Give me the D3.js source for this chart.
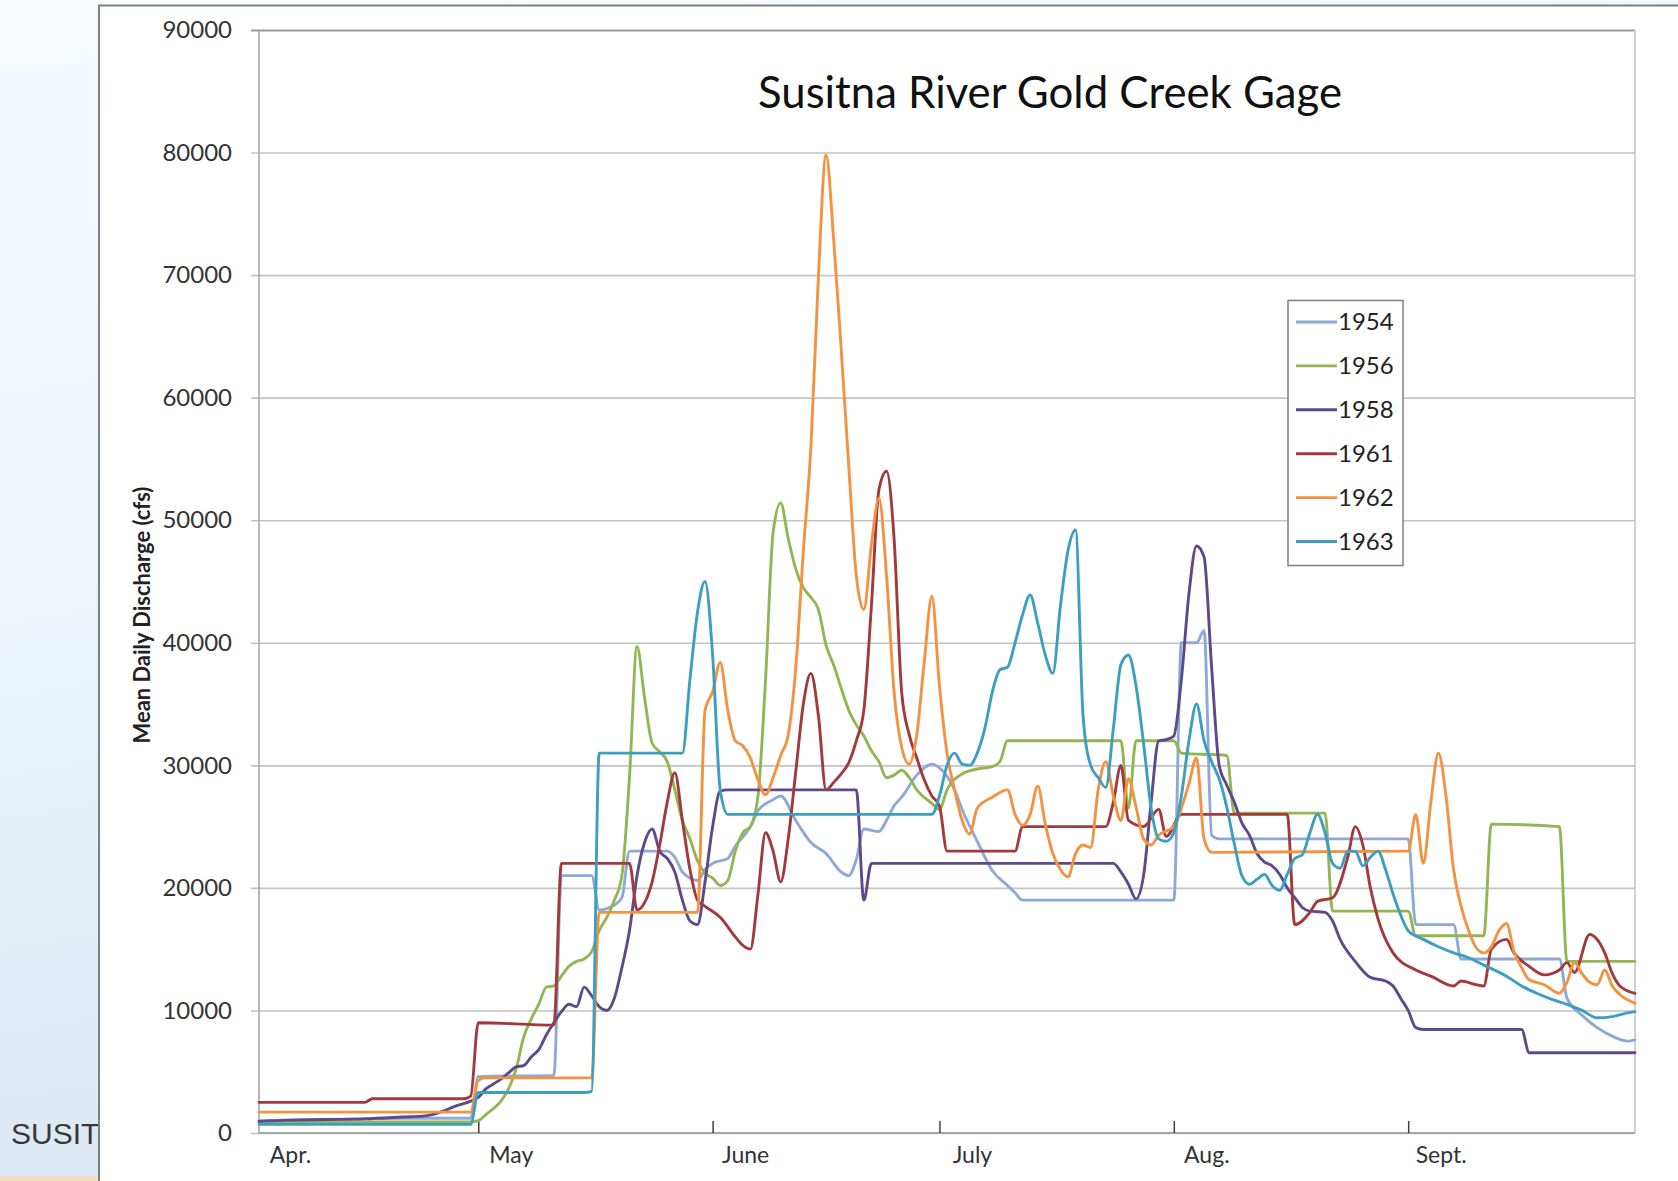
<!DOCTYPE html>
<html>
<head>
<meta charset="utf-8">
<script src="https://cdn.jsdelivr.net/npm/d3@7"></script>
<style>
  html, body { margin: 0; padding: 0; background: #fff; overflow: hidden; }
  svg { display: block; }
</style>
</head>
<body>
<svg id="chart" width="1678" height="1181"></svg>
<script>
// Mean daily discharge (cfs), Susitna River at Gold Creek, April through September.
// Each point is [day, cfs] where day counts days since April 1 (May 1 = 30, Sept 30 = 182).

const years = ["1954", "1956", "1958", "1961", "1962", "1963"];

const flow1954 = [[1,1000],[10,1100],[20,1200],[29,1200],[30,4600],[40,4700],[41,21000],[45,21000],[46,18200],[48,18600],[49,19200],[50,23000],[55,23000],[56,22500],[57,21300],[58,20800],[59,20600],[60,21500],[61,22000],[63,22400],[64,23400],[66,25000],[67,26300],[69,27200],[70,27500],[72,25500],[74,23700],[76,22800],[78,21300],[79,21000],[80,22300],[81,24800],[83,24600],[84,25500],[85,26700],[86,27400],[88,29200],[90,30100],[91,29800],[93,28000],[94,26400],[96,23800],[98,21400],[100,20200],[101,19600],[102,19000],[122,19000],[123,40000],[125,40000],[126,41000],[127,24300],[128,24000],[153,24000],[154,17000],[159,17000],[160,14200],[173,14200],[174,11000],[176,9600],[178,8600],[180,7900],[182,7500],[183,7600]];

const flow1956 = [[1,900],[29,900],[30,1000],[31,1500],[32,2000],[33,2600],[34,3600],[35,5200],[36,7800],[37,9300],[38,10500],[39,11900],[40,12000],[41,12800],[42,13600],[43,14000],[44,14200],[45,14800],[46,16500],[47,17600],[48,19000],[49,21000],[50,29000],[51,39700],[52,35500],[53,31800],[54,31100],[55,30300],[56,28000],[57,25500],[58,24000],[59,22200],[60,21200],[61,20800],[62,20200],[63,20600],[64,23000],[65,24500],[66,25000],[67,27500],[68,37000],[69,49000],[70,51400],[71,48500],[72,46000],[73,44500],[74,43700],[75,42700],[76,39800],[77,38200],[78,36300],[79,34500],[80,33300],[81,32400],[82,31200],[83,30300],[84,29000],[85,29200],[86,29600],[87,29000],[88,28000],[90,26900],[91,26400],[92,28000],[94,29300],[96,29700],[98,29900],[99,30300],[100,32000],[115,32000],[116,26500],[117,32000],[122,32000],[123,31000],[129,30800],[130,26100],[142,26100],[143,18100],[153,18100],[154,16100],[163,16100],[164,25200],[173,25000],[174,14000],[183,14000]];

const flow1958 = [[1,950],[5,1050],[10,1100],[15,1150],[20,1300],[23,1400],[25,1700],[27,2200],[29,2600],[30,2900],[31,3600],[32,4000],[33,4400],[34,4900],[35,5400],[36,5500],[37,6200],[38,6800],[39,8000],[40,9000],[41,9900],[42,10500],[43,10300],[44,11900],[45,11200],[46,10300],[47,10000],[48,11000],[49,13500],[50,16500],[51,21000],[52,23700],[53,24800],[54,23000],[55,22400],[56,21300],[57,19000],[58,17300],[59,17000],[60,20500],[61,25000],[62,27900],[63,28000],[80,28000],[81,19000],[82,22000],[114,22000],[115,21300],[116,20300],[117,19100],[118,21000],[119,27000],[120,32000],[121,32100],[122,32400],[123,37000],[124,44000],[125,47900],[126,47000],[127,38000],[128,30000],[129,28400],[130,27000],[131,25300],[132,24300],[133,22800],[134,22100],[135,21800],[136,21100],[137,20000],[138,19200],[139,18400],[140,18100],[142,18000],[143,17300],[144,15800],[146,14000],[148,12700],[150,12400],[151,12000],[152,11000],[153,10000],[154,8600],[155,8450],[168,8450],[169,6550],[183,6550]];

const flow1961 = [[1,2500],[15,2500],[16,2800],[28,2800],[29,3000],[30,9000],[40,8800],[41,22000],[50,22000],[51,18200],[52,18800],[53,20500],[54,23500],[55,27000],[56,29400],[57,25500],[58,21500],[59,19000],[60,18500],[62,17600],[64,16000],[65,15300],[66,15000],[67,19500],[68,24500],[69,23000],[70,20500],[71,24000],[72,29500],[73,35000],[74,37500],[75,34000],[76,28000],[77,28600],[78,29300],[79,30200],[80,32000],[81,34500],[82,43000],[83,52500],[84,54000],[85,48500],[86,36000],[87,32500],[88,30600],[89,28800],[90,27500],[91,26700],[92,23000],[101,23000],[102,25000],[113,25000],[114,27000],[115,30000],[116,25500],[118,25000],[120,26400],[121,24200],[123,26000],[137,26000],[138,17000],[140,18000],[141,18900],[143,19200],[145,22500],[146,25000],[147,23500],[148,20000],[149,17500],[151,14700],[154,13300],[156,12800],[159,12000],[160,12400],[162,12100],[163,12000],[164,15000],[166,15800],[167,14700],[169,13600],[171,12900],[173,13300],[174,13900],[175,13100],[177,16200],[179,14700],[180,13000],[181,12000],[183,11400]];

const flow1962 = [[1,1700],[29,1700],[30,4300],[31,4500],[45,4500],[46,18000],[59,18000],[60,34500],[61,36000],[62,38400],[63,34500],[64,32000],[65,31600],[66,30600],[67,28800],[68,27600],[69,29000],[70,30800],[71,32500],[72,38000],[73,47500],[74,56000],[75,70000],[76,79800],[77,73000],[78,64000],[79,54500],[80,45500],[81,42700],[82,48000],[83,51800],[84,45500],[85,36000],[86,31500],[87,30100],[88,32500],[89,38500],[90,43800],[91,36500],[92,31000],[93,28000],[94,25500],[95,24400],[96,26500],[98,27400],[100,28000],[101,26000],[102,25100],[103,26000],[104,28300],[105,25200],[106,22800],[107,21500],[108,20900],[109,22800],[110,23500],[111,23300],[112,28000],[113,30300],[114,27500],[115,25500],[116,28900],[117,26600],[118,24000],[119,23500],[120,24300],[122,25000],[123,26500],[124,28500],[125,30600],[126,24000],[127,22900],[153,23000],[154,26000],[155,22000],[156,27000],[157,31000],[158,27500],[159,21500],[160,18500],[161,16500],[162,15100],[163,14700],[164,15200],[165,16500],[166,17100],[167,14800],[168,13500],[169,12500],[171,12100],[173,11400],[174,12300],[175,13900],[176,13000],[177,12300],[178,12100],[179,13300],[180,12000],[181,11300],[183,10600]];

const flow1963 = [[1,700],[29,700],[30,3300],[44,3300],[45,3400],[46,31000],[57,31000],[58,37000],[59,42500],[60,45000],[61,39000],[62,28000],[63,26000],[90,26000],[91,27500],[92,30000],[93,31000],[94,30100],[95,30000],[96,31000],[97,33000],[98,36000],[99,37800],[100,38000],[101,40000],[102,42300],[103,43900],[104,41600],[105,39000],[106,37500],[107,43000],[108,47500],[109,49200],[110,34000],[111,30000],[112,29000],[113,28200],[114,33000],[115,38200],[116,39000],[117,36500],[118,31800],[119,26500],[120,24000],[121,23800],[122,24500],[123,27500],[124,32000],[125,35000],[126,32000],[127,30300],[128,28900],[129,26600],[130,23600],[131,21000],[132,20300],[133,20700],[134,21100],[135,20200],[136,19800],[137,21100],[138,22400],[139,22700],[140,24500],[141,26000],[142,24500],[143,22000],[144,21600],[145,23000],[146,23000],[147,21800],[148,22500],[149,23000],[150,21500],[151,19500],[152,17800],[153,16500],[155,15800],[157,15200],[159,14700],[161,14300],[163,13700],[166,12800],[168,12000],[170,11400],[172,10900],[174,10500],[176,10000],[178,9400],[180,9500],[182,9800],[183,9900]];

const yTicks = [0, 10000, 20000, 30000, 40000, 50000, 60000, 70000, 80000, 90000];
const monthLabels = ["Apr.", "May", "June", "July", "Aug.", "Sept."];
const monthStartDays = [0, 30, 61, 91, 122, 153];

const seriesFlows = [flow1954, flow1956, flow1958, flow1961, flow1962, flow1963];
const seriesColors = ["#8ea9d8", "#93b653", "#5d4a8c", "#a23a3d", "#f39241", "#3c9fc0"];

const svg = d3.select("#chart");
const W = 1678, H = 1181;
const plot = { left: 259, right: 1635, top: 30, bottom: 1133 };
const labelFont = "Lato, 'Open Sans', sans-serif";

// ---- slide background and white panel ----
const defs = svg.append("defs");
const bg = defs.append("linearGradient").attr("id", "slideBg")
  .attr("x1", 0).attr("y1", 0).attr("x2", 0.25).attr("y2", 1);
bg.append("stop").attr("offset", 0).attr("stop-color", "#f7fbfe");
bg.append("stop").attr("offset", 0.45).attr("stop-color", "#eef5fb");
bg.append("stop").attr("offset", 1).attr("stop-color", "#d9e7f3");

svg.append("rect").attr("x", 0).attr("y", 0).attr("width", W).attr("height", H)
  .attr("fill", "url(#slideBg)");
svg.append("rect").attr("x", 0).attr("y", 1176).attr("width", 100).attr("height", 5)
  .attr("fill", "#f1dcc4");

svg.append("text").attr("x", 11).attr("y", 1144)
  .attr("font-family", "'Liberation Sans', Arial, sans-serif")
  .attr("font-size", 30).attr("fill", "#383838")
  .text("SUSITNA");

svg.append("rect").attr("x", 99).attr("y", 5.5).attr("width", W).attr("height", H)
  .attr("fill", "#ffffff").attr("stroke", "#7f7f7f").attr("stroke-width", 2);

// ---- scales ----
const x = d3.scaleLinear().domain([1, 183]).range([plot.left, plot.right]);
const y = d3.scaleLinear().domain([0, 90000]).range([plot.bottom, plot.top]);

// ---- gridlines and y axis ----
const yAxis = d3.axisLeft(y).tickValues(yTicks).tickFormat(d3.format("d"))
  .tickSize(8).tickPadding(19);
const gy = svg.append("g").attr("transform", `translate(${plot.left},0)`).call(yAxis);
gy.select(".domain").remove();
gy.selectAll(".tick line").attr("x2", plot.right - plot.left).attr("x1", -8)
  .attr("stroke", d => d === 90000 ? "#9a9a9a" : "#c3c3c3")
  .attr("stroke-width", d => d === 90000 ? 2.2 : 1.6);
gy.selectAll(".tick text").attr("font-family", labelFont).attr("font-size", 24)
  .attr("fill", "#333");

// plot frame: left axis, right border, bottom axis
svg.append("line").attr("x1", plot.left).attr("x2", plot.left)
  .attr("y1", plot.top).attr("y2", plot.bottom).attr("stroke", "#a6a6a6").attr("stroke-width", 1.6);
svg.append("line").attr("x1", plot.right).attr("x2", plot.right)
  .attr("y1", plot.top).attr("y2", plot.bottom).attr("stroke", "#c8c8c8").attr("stroke-width", 1.6);
svg.append("line").attr("x1", plot.left).attr("x2", plot.right)
  .attr("y1", plot.bottom).attr("y2", plot.bottom).attr("stroke", "#a6a6a6").attr("stroke-width", 1.8);

// ---- x axis: month-start ticks pointing into the plot, labels after each tick ----
const xAxis = d3.axisBottom(x).tickValues(monthStartDays.slice(1)).tickSize(-12).tickFormat("");
const gx = svg.append("g").attr("transform", `translate(0,${plot.bottom})`).call(xAxis);
gx.select(".domain").remove();
gx.selectAll(".tick line").attr("stroke", "#404040").attr("stroke-width", 1.5);

svg.append("g").selectAll("text").data(monthLabels).join("text")
  .attr("x", (d, i) => x(monthStartDays[i]) + (i === 0 ? 39 : 33))
  .attr("y", 1155)
  .attr("dy", "0.35em")
  .attr("text-anchor", "middle")
  .attr("font-family", labelFont).attr("font-size", 23).attr("fill", "#333")
  .text(d => d);

// ---- discharge lines ----
const line = d3.line()
  .x(d => x(d[0]))
  .y(d => y(d[1]))
  .curve(d3.curveMonotoneX);

svg.append("g").selectAll("path").data(seriesFlows).join("path")
  .attr("d", line)
  .attr("fill", "none")
  .attr("stroke", (d, i) => seriesColors[i])
  .attr("stroke-width", 2.9)
  .attr("stroke-linejoin", "round")
  .attr("stroke-linecap", "round");

// ---- titles ----
const title = svg.append("text")
  .attr("x", 1050).attr("y", 93).attr("dy", "0.35em")
  .attr("text-anchor", "middle")
  .attr("font-family", labelFont).attr("font-size", 38).attr("fill", "#111")
  .text("Susitna River Gold Creek Gage");
const tw = title.node().getComputedTextLength();
title.attr("font-size", 38 * 584 / tw);

const yTitle = svg.append("text")
  .attr("transform", "translate(142,615) rotate(-90)")
  .attr("dy", "0.35em")
  .attr("text-anchor", "middle")
  .attr("font-family", labelFont).attr("font-weight", "bold")
  .attr("font-size", 19).attr("fill", "#222")
  .text("Mean Daily Discharge (cfs)");
const yw = yTitle.node().getComputedTextLength();
yTitle.attr("font-size", 19 * 257 / yw);

// ---- legend ----
const legend = svg.append("g");
legend.append("rect").attr("x", 1288).attr("y", 300.5).attr("width", 115).attr("height", 265)
  .attr("fill", "#fff").attr("stroke", "#7f7f7f").attr("stroke-width", 1.5);
const entries = legend.selectAll("g.entry").data(years).join("g")
  .attr("class", "entry")
  .attr("transform", (d, i) => `translate(0,${322 + i * 43.9})`);
entries.append("line").attr("x1", 1296).attr("x2", 1337).attr("y1", 0).attr("y2", 0)
  .attr("stroke", (d, i) => seriesColors[i]).attr("stroke-width", 2.9);
entries.append("text").attr("x", 1338).attr("y", 0).attr("dy", "0.35em")
  .attr("font-family", labelFont).attr("font-size", 24).attr("fill", "#222")
  .text(d => d);
</script>
</body>
</html>
